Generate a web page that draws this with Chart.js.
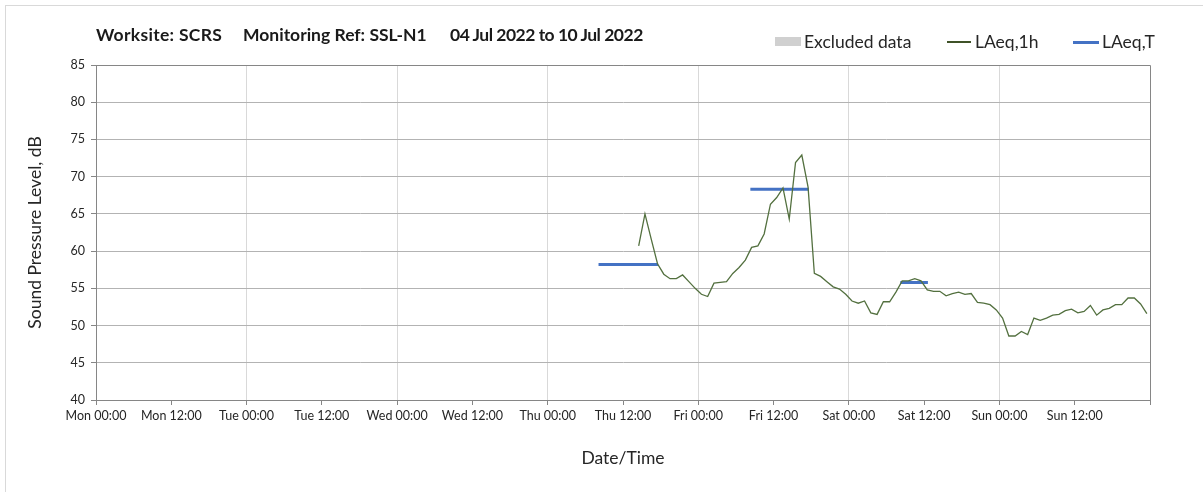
<!DOCTYPE html>
<html>
<head>
<meta charset="utf-8">
<script src="https://cdn.jsdelivr.net/npm/chart.js@4.4.1/dist/chart.umd.min.js"></script>
<style>
  html, body { margin: 0; padding: 0; background: #fff; }
  body { width: 1203px; height: 492px; position: relative; overflow: hidden; font-family: Lato, "Open Sans", sans-serif; }
  #frame { position: absolute; left: 5px; top: 5px; width: 1300px; height: 600px; border: 1px solid #d9d9d9; }
  #chart { position: absolute; left: 0; top: 0; }
  .tt { position: absolute; top: 24px; font-size: 17.5px; font-weight: bold; color: #1a1a1a; white-space: pre; }
  .lg { position: absolute; top: 31px; font-size: 17.5px; color: #262626; white-space: pre; }
  .sw { position: absolute; }
</style>
</head>
<body>
<div id="frame"></div>
<canvas id="chart" width="1203" height="492"></canvas>
<div class="tt" style="left:96px;letter-spacing:0.3px">Worksite: SCRS</div>
<div class="tt" style="left:243px">Monitoring Ref: SSL-N1</div>
<div class="tt" style="left:450px;letter-spacing:-0.5px">04 Jul 2022 to 10 Jul 2022</div>
<div class="sw" style="left:775px;top:37px;width:26px;height:9px;background:#d0d0d0"></div>
<div class="lg" style="left:804px">Excluded data</div>
<div class="sw" style="left:947px;top:41px;width:24px;height:1.5px;background:#3f5228"></div>
<div class="lg" style="left:975px">LAeq,1h</div>
<div class="sw" style="left:1073px;top:40.5px;width:26px;height:3px;background:#4472c4"></div>
<div class="lg" style="left:1102px">LAeq,T</div>
<script>
// ── Data ──────────────────────────────────────
// hours from Mon 00:00; hourly values plotted at mid-hour
const tickLabels = ['Mon 00:00', 'Mon 12:00', 'Tue 00:00', 'Tue 12:00', 'Wed 00:00', 'Wed 12:00',
  'Thu 00:00', 'Thu 12:00', 'Fri 00:00', 'Fri 12:00', 'Sat 00:00', 'Sat 12:00', 'Sun 00:00', 'Sun 12:00', ''];
const hourlyStart = 86.5;
const laeq1h = [
  60.7, 65.0, 61.6, 58.3, 56.9, 56.3, 56.3, 56.8, 55.9, 55.0,
  54.2, 53.9, 55.7, 55.8, 55.9, 57.0, 57.8, 58.8, 60.5, 60.7,
  62.3, 66.3, 67.2, 68.5, 64.3, 71.9, 72.9, 68.6, 57.0, 56.6,
  55.9, 55.2, 54.9, 54.2, 53.3, 53.0, 53.3, 51.7, 51.5, 53.2,
  53.2, 54.5, 56.0, 56.0, 56.3, 56.0, 54.8, 54.6, 54.6, 54.0,
  54.3, 54.5, 54.2, 54.3, 53.1, 53.0, 52.8, 52.1, 51.0, 48.6,
  48.6, 49.2, 48.8, 51.0, 50.7, 51.0, 51.4, 51.5, 52.0, 52.2,
  51.7, 51.9, 52.7, 51.4, 52.1, 52.3, 52.8, 52.8, 53.7, 53.7,
  52.9, 51.6
];
const ltStart = [80.1, 104.3, 128.2];
const ltEnd = [89.6, 113.6, 132.6];
const ltValue = [58.2, 68.3, 55.8];

const hourlyPts = laeq1h.map((v, i) => ({ x: hourlyStart + i, y: v }));
const ltPts = [];
ltValue.forEach((v, i) => {
  ltPts.push({ x: ltStart[i], y: v }, { x: ltEnd[i], y: v });
  if (i < ltValue.length - 1) ltPts.push({ x: (ltEnd[i] + ltStart[i + 1]) / 2, y: null });
});

// ── Plot frame (top + right edge) ─────────────
const framePlugin = {
  id: 'frame',
  afterDatasetsDraw(chart) {
    const { ctx, chartArea: a } = chart;
    ctx.save();
    ctx.strokeStyle = '#868686';
    ctx.lineWidth = 1;
    ctx.beginPath();
    ctx.moveTo(Math.round(a.left) + 0.5, Math.round(a.top) + 0.5);
    ctx.lineTo(Math.round(a.right) + 0.5, Math.round(a.top) + 0.5);
    ctx.lineTo(Math.round(a.right) + 0.5, Math.round(a.bottom) + 0.5);
    ctx.stroke();
    ctx.restore();
  }
};

const fam = 'Lato, "Open Sans", sans-serif';
const tickFont = { family: fam, size: 12.5 };

new Chart(document.getElementById('chart').getContext('2d'), {
  type: 'line',
  data: {
    datasets: [{
      label: 'LAeq,1h',
      data: hourlyPts,
      borderColor: '#53703f',
      borderWidth: 1.3,
      pointRadius: 0,
      tension: 0
    }, {
      label: 'LAeq,T',
      data: ltPts,
      borderColor: '#4472c4',
      borderWidth: 3,
      pointRadius: 0,
      spanGaps: false,
      tension: 0
    }]
  },
  options: {
    responsive: false, animation: false, devicePixelRatio: 1,
    layout: { padding: { top: 65, right: 53, bottom: 0, left: 0 } },
    plugins: { legend: { display: false }, tooltip: { enabled: false } },
    scales: {
      x: {
        type: 'linear', min: 0, max: 168,
        afterFit: s => { s.height = 92; },
        afterBuildTicks: s => { s.ticks = tickLabels.map((_, i) => ({ value: i * 12 })); },
        grid: {
          color: c => (c.tick && c.tick.value % 24 === 0 && c.tick.value > 0 && c.tick.value < 168) ? '#d9d9d9' : 'rgba(0,0,0,0)',
          tickColor: '#868686', tickLength: 5, lineWidth: 1
        },
        border: { color: '#868686' },
        ticks: {
          autoSkip: false, maxRotation: 0, padding: 3, color: '#262626', font: tickFont,
          callback: v => tickLabels[Math.round(v / 12)]
        },
        title: { display: true, text: 'Date/Time', color: '#262626', font: { family: fam, size: 17.5 }, padding: { top: 0, bottom: 23 } }
      },
      y: {
        min: 40, max: 85,
        afterFit: s => { s.width = 96; },
        grid: { color: '#b3b3b3', tickColor: '#868686', tickLength: 5 },
        border: { color: '#868686' },
        ticks: { stepSize: 5, padding: 6, color: '#262626', font: tickFont },
        title: { display: true, text: 'Sound Pressure Level, dB', color: '#262626', font: { family: fam, size: 17.5 }, padding: { top: 25, bottom: 0 } }
      }
    }
  },
  plugins: [framePlugin]
});
</script>
</body>
</html>
